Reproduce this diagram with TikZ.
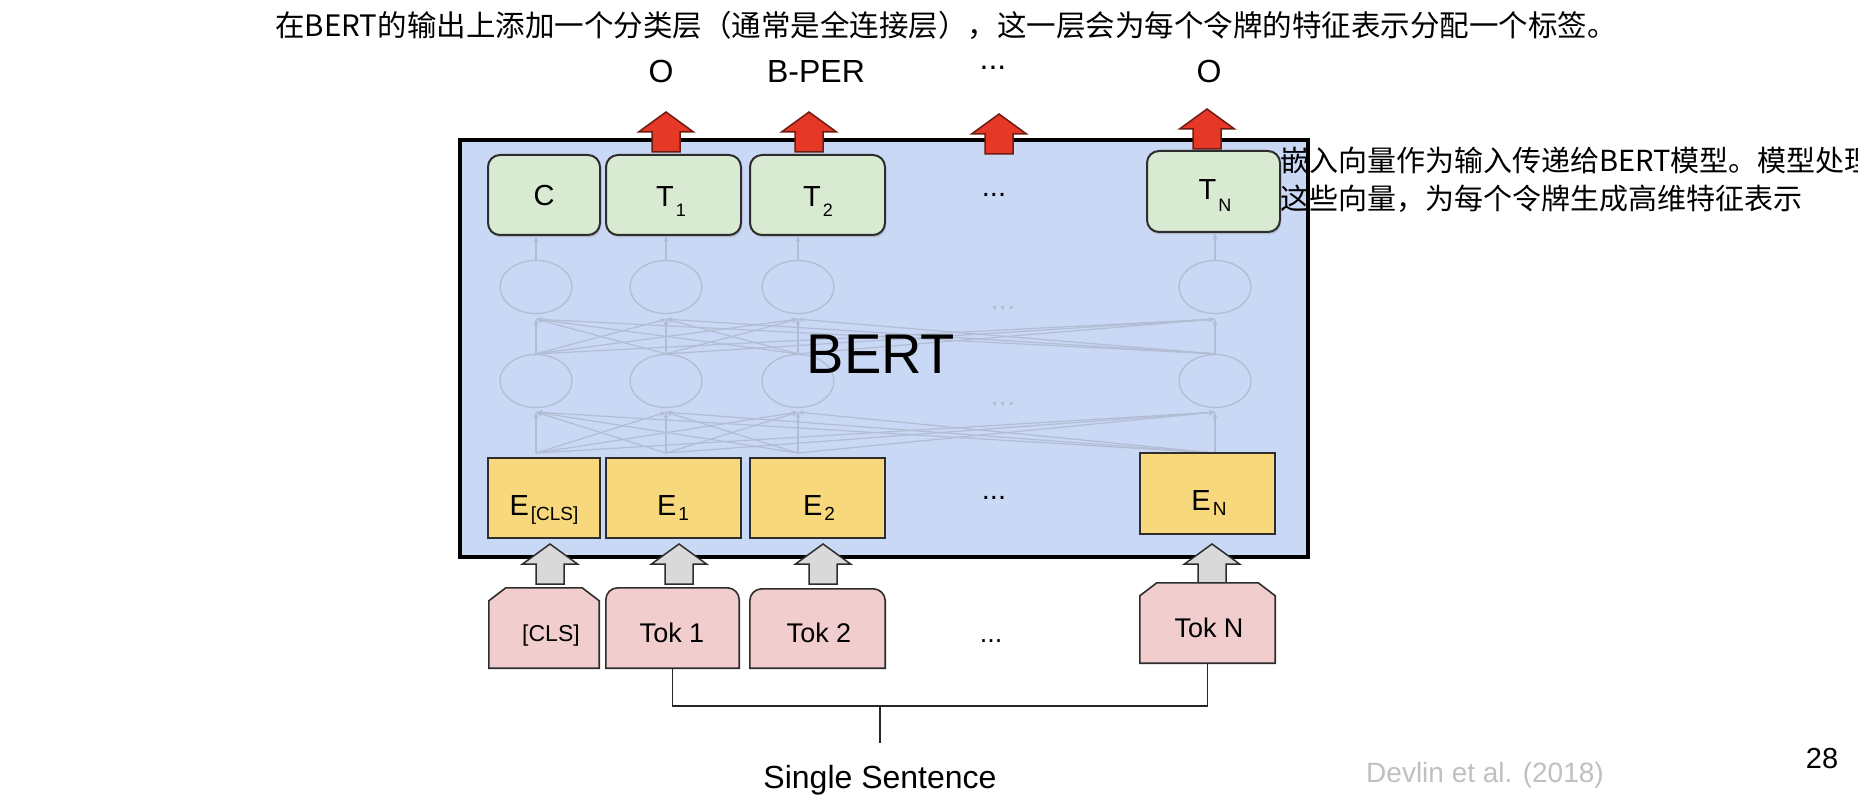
\documentclass[tikz,border=0pt]{standalone}
\usepackage{fontspec}
\setmainfont{Liberation Sans}
\newfontfamily\cjk{Noto Sans CJK SC}
\usetikzlibrary{shapes.geometric,arrows.meta,shadows}
\newcommand\myfs[1]{\fontsize{#1}{#1}\selectfont}
\newcommand\sublab[4]{{\myfs{29}#1}\hspace{2pt}\raisebox{-#3pt}{\myfs{#4}#2}}
\definecolor{bertblue}{RGB}{201,216,245}
\definecolor{tgreen}{RGB}{217,234,211}
\definecolor{eyellow}{RGB}{248,216,124}
\definecolor{tokpink}{RGB}{242,205,205}
\definecolor{redarr}{RGB}{230,56,38}
\definecolor{redline}{RGB}{110,28,18}
\definecolor{grayarr}{RGB}{217,217,217}
\definecolor{netgray}{RGB}{178,189,212}
\definecolor{boxline}{RGB}{45,45,45}
\definecolor{citegray}{RGB}{192,192,192}
\begin{document}
\begin{tikzpicture}[x=1pt, y=-1pt,
 bertbox/.style={rectangle, draw=black, line width=4.5pt, fill=bertblue, inner sep=0pt},
 tbox/.style={rectangle, rounded corners=12pt, draw=boxline, line width=2pt, fill=tgreen, inner sep=0pt,
   drop shadow={opacity=0.3, shadow xshift=1pt, shadow yshift=-2.5pt}},
 ebox/.style={rectangle, draw=boxline, line width=2pt, fill=eyellow, inner sep=0pt},
 tokspace/.style={rectangle, inner sep=0pt},
 tokround/.style={draw=boxline, line width=1.6pt, fill=tokpink},
 neuron/.style={ellipse, draw=netgray, line width=1.3pt, minimum width=72pt, minimum height=53pt, inner sep=0pt},
 netline/.style={draw=netgray, line width=1.2pt, -{Stealth[length=6pt,width=5pt]}},
 lab/.style={anchor=base, inner sep=0pt, text=black},
 conn/.style={draw=black!85, line width=1.6pt},
 redblock/.style={fill=redarr, draw=redline, line width=1.5pt, line join=miter},
 grayblock/.style={fill=grayarr, draw=boxline, line width=1.5pt, line join=miter},
 redarrow/.pic={\path[redblock] (0,0) -- (27.5,20) -- (14,20) -- (14,40) -- (-14,40) -- (-14,20) -- (-27.5,20) -- cycle;},
 grayarrow/.pic={\path[grayblock] (0,0) -- (27.5,20) -- (14,20) -- (14,40) -- (-14,40) -- (-14,20) -- (-27.5,20) -- cycle;}
]
\useasboundingbox (0,0) rectangle (1858,802);
\fill[white] (0,0) rectangle (1858,802);

% BERT box
\node[bertbox, minimum width=848pt, minimum height=417pt] (bert) at (884,348.5) {};

% network
\foreach \i/\x in {1/536,2/666,3/798,4/1215}{
  \node[neuron] (u\i) at (\x,287) {};
  \node[neuron] (l\i) at (\x,381) {};
  \coordinate (b\i) at (\x,453);
}
\foreach \i in {1,...,4}{
  \foreach \j in {1,...,4}{
    \draw[netline] (l\i.north) -- ([yshift=-5pt]u\j.south);
    \draw[netline] (b\i) -- ([yshift=-4pt]l\j.south);
  }
}
\node[lab, font=\myfs{29}, text=netgray] (nd1) at (1003,310) {...};
\node[lab, font=\myfs{29}, text=netgray] (nd2) at (1003,405) {...};

% T boxes
\node[tbox, minimum width=112pt, minimum height=80pt] (tc) at (544,195) {};
\node[tbox, minimum width=135pt, minimum height=80pt] (t1) at (673.5,195) {};
\node[tbox, minimum width=135pt, minimum height=80pt] (t2) at (817.5,195) {};
\node[tbox, minimum width=133pt, minimum height=81pt] (tn) at (1213.5,191.5) {};
\foreach \i/\t in {1/tc,2/t1,3/t2,4/tn}{
  \draw[netline] (u\i.north) -- (u\i.north |- \t.south);
}
\node[lab, font=\myfs{29}] (tcl) at (544,206) {C};
\node[lab] (t1l) at (671,207) {\sublab{T}{1}{10}{18}};
\node[lab] (t2l) at (818,207) {\sublab{T}{2}{10}{18}};
\node[lab] (tnl) at (1215,200) {\sublab{T}{N}{12}{18}};
\node[lab, font=\myfs{29}] (tdots) at (994,197) {...};

% E boxes
\node[ebox, minimum width=112pt, minimum height=80pt] (ec) at (544,498) {};
\node[ebox, minimum width=135pt, minimum height=80pt] (e1) at (673.5,498) {};
\node[ebox, minimum width=135pt, minimum height=80pt] (e2) at (817.5,498) {};
\node[ebox, minimum width=135pt, minimum height=81pt] (en) at (1207.5,493.5) {};
\node[lab] (ecl) at (544,515) {\sublab{E}{[CLS]}{5}{19}};
\node[lab] (e1l) at (673,515) {\sublab{E}{1}{5}{19}};
\node[lab] (e2l) at (819,515) {\sublab{E}{2}{5}{19}};
\node[lab] (enl) at (1209,510) {\sublab{E}{N}{5}{19}};
\node[lab, font=\myfs{29}] (edots) at (994,499) {...};

% BERT label
\node[lab, font=\myfs{56}] (bertlab) at (881,373) {BERT};

% red output arrows
\pic (ra1) at (666,112) {redarrow};
\pic (ra2) at (809,112) {redarrow};
\pic (ra3) at (999,114) {redarrow};
\pic (ra4) at (1207,109) {redarrow};

% output labels
\node[lab, font=\myfs{32}] (o1) at (661,83) {O};
\node[lab, font=\myfs{32}] (bper) at (816,83) {B-PER};
\node[lab, font=\myfs{32}] (odots) at (993,70) {...};
\node[lab, font=\myfs{32}] (o2) at (1209,83) {O};

% gray input arrows
\pic (ga1) at (550,544) {grayarrow};
\pic (ga2) at (679,544) {grayarrow};
\pic (ga3) at (823,544) {grayarrow};
\pic (ga4) at (1212,544) {grayarrow};

% tokens
\node[tokspace, minimum width=110pt, minimum height=80pt] (tokc) at (544,628) {};
\node[tokspace, minimum width=133pt, minimum height=80pt] (tok1) at (672.5,628) {};
\node[tokspace, minimum width=135pt, minimum height=79pt] (tok2) at (817.5,628.5) {};
\node[tokspace, minimum width=135pt, minimum height=80pt] (tokn) at (1207.5,623) {};
\foreach \t in {tokc,tokn}{
  \draw[tokround] (\t.south west) -- ([yshift=-13pt]\t.north west)
    -- ([xshift=17pt]\t.north west) -- ([xshift=-17pt]\t.north east)
    -- ([yshift=-13pt]\t.north east) -- (\t.south east) -- cycle;
}
\foreach \t in {tok1,tok2}{
  \draw[tokround] (\t.south west) -- ([yshift=-12pt]\t.north west)
    arc[start angle=180, end angle=90, radius=12pt]
    -- ([xshift=-12pt]\t.north east)
    arc[start angle=90, end angle=0, radius=12pt]
    -- (\t.south east) -- cycle;
}
\node[lab, font=\myfs{23}] (tokcl) at (551,641) {[CLS]};
\node[lab, font=\myfs{27}] (tok1l) at (672,642) {Tok 1};
\node[lab, font=\myfs{27}] (tok2l) at (819,642) {Tok 2};
\node[lab, font=\myfs{27}] (tokdots) at (991,642) {...};
\node[lab, font=\myfs{27}] (tokl) at (1209,637) {Tok N};

% sentence connector
\coordinate (jn) at (880,706);
\coordinate (jb) at (880,743);
\draw[conn] (tok1.south) |- (jn) -| (tokn.south);
\draw[conn] (jn) -- (jb);
\node[lab, font=\myfs{32}] (sent) at (880,788) {Single Sentence};

% citation and page number
\node[lab, font=\myfs{28}, text=citegray] (cite) at (1485,782) {Devlin et al. (2018)};
\node[lab, font=\myfs{29}] (page) at (1822,768) {28};

% Chinese texts
\node[lab, font={\cjk\myfs{29.5}}] (title) at (946,37) {在BERT的输出上添加一个分类层（通常是全连接层），这一层会为每个令牌的特征表示分配一个标签。};
\node[anchor=base west, inner sep=0pt, font={\cjk\myfs{29}}] (desc1) at (1280,172) {嵌入向量作为输入传递给BERT模型。模型处理};
\node[anchor=base west, inner sep=0pt, font={\cjk\myfs{29}}] (desc2) at (1280,210) {这些向量，为每个令牌生成高维特征表示};
\end{tikzpicture}
\end{document}
